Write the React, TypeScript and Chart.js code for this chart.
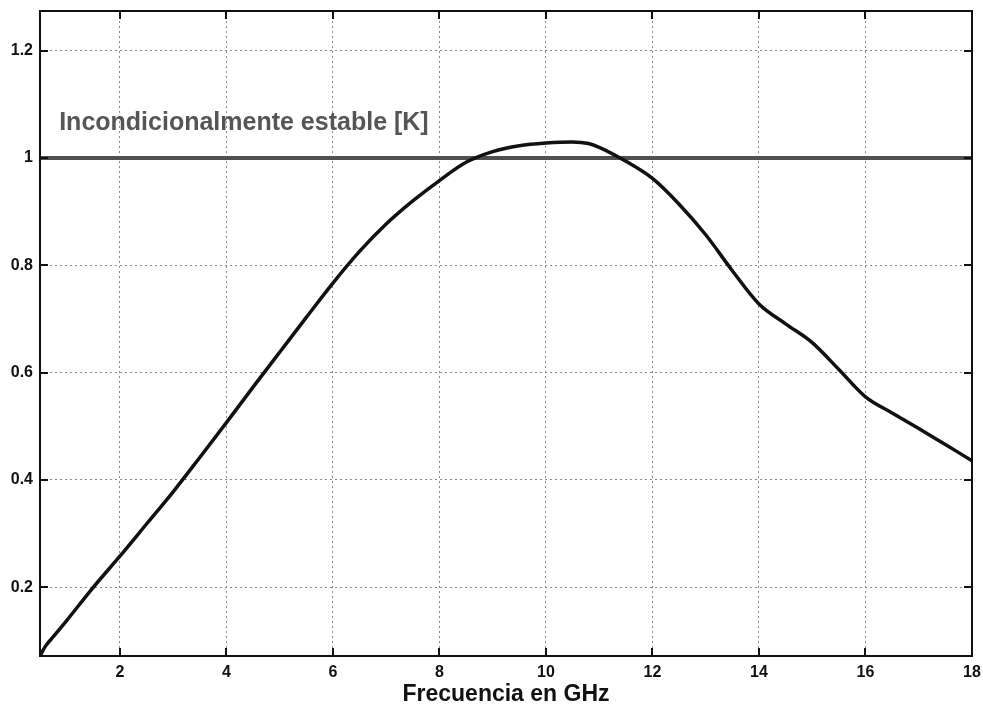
import { useEffect, useRef } from "react";
import { Chart, registerables } from "chart.js";

Chart.register(...registerables);

// Stability factor K versus frequency
const frequencyGHz = [
  0.5, 0.6, 0.75, 1.0, 1.5, 2.0, 2.5, 3.0, 3.5, 4.0, 4.5, 5.0, 5.5, 6.0, 6.5, 7.0, 7.5, 8.0,
  8.5, 9.0, 9.5, 10.0, 10.5, 10.8, 11.0, 11.5, 12.0, 12.5, 13.0, 13.5, 14.0, 14.5, 15.0, 15.5,
  16.0, 16.5, 17.0, 17.5, 18.0,
];
const stabilityK = [
  0.072, 0.09, 0.108, 0.138, 0.2, 0.258, 0.318, 0.378, 0.442, 0.507, 0.573, 0.638, 0.703, 0.767,
  0.826, 0.877, 0.92, 0.958, 0.992, 1.012, 1.023, 1.028, 1.03, 1.027, 1.02, 0.994, 0.962, 0.914,
  0.857, 0.79, 0.728, 0.691, 0.656, 0.606, 0.555, 0.525, 0.496, 0.466, 0.436,
];

// Unconditional stability threshold
const thresholdK = 1;
const thresholdLabel = "Incondicionalmente estable [K]";
const thresholdLabelAt = { x: 0.86, y: 1.052 };

const xTickValues = [2, 4, 6, 8, 10, 12, 14, 16, 18];
const yTickValues = [0.2, 0.4, 0.6, 0.8, 1, 1.2];
const xRange = { min: 0.5, max: 18 };
const yRange = { min: 0.072, max: 1.274 };
const xAxisTitle = "Frecuencia en GHz";

const FONT = "'Liberation Sans', Arial, Helvetica, sans-serif";

// Box frame, inward tick marks on all four sides, and the threshold caption
const framePlugin = {
  id: "frame",
  afterDraw(chart: any) {
    const { ctx, chartArea: a, scales } = chart;
    const xs = scales.x;
    const ys = scales.y;
    const tick = 8;
    ctx.save();
    ctx.strokeStyle = "#111";
    ctx.lineWidth = 2;
    ctx.strokeRect(a.left, a.top, a.right - a.left, a.bottom - a.top);
    ctx.beginPath();
    for (const v of xTickValues) {
      const px = Math.round(xs.getPixelForValue(v));
      ctx.moveTo(px, a.bottom);
      ctx.lineTo(px, a.bottom - tick);
      ctx.moveTo(px, a.top);
      ctx.lineTo(px, a.top + tick);
    }
    for (const v of yTickValues) {
      const py = Math.round(ys.getPixelForValue(v));
      ctx.moveTo(a.left, py);
      ctx.lineTo(a.left + tick, py);
      ctx.moveTo(a.right, py);
      ctx.lineTo(a.right - tick, py);
    }
    ctx.stroke();

    ctx.fillStyle = "#555";
    ctx.font = `bold 25px ${FONT}`;
    ctx.textAlign = "left";
    ctx.textBaseline = "alphabetic";
    ctx.fillText(
      thresholdLabel,
      xs.getPixelForValue(thresholdLabelAt.x),
      ys.getPixelForValue(thresholdLabelAt.y)
    );
    ctx.restore();
  },
};

const whiteBackground = {
  id: "whiteBackground",
  beforeDraw(chart: any) {
    const { ctx, width, height } = chart;
    ctx.save();
    ctx.fillStyle = "#fff";
    ctx.fillRect(0, 0, width, height);
    ctx.restore();
  },
};

export default function App() {
  const canvasRef = useRef<HTMLCanvasElement | null>(null);

  useEffect(() => {
    const canvas = canvasRef.current;
    if (!canvas) return;
    const curve = frequencyGHz.map((f, i) => ({ x: f, y: stabilityK[i] }));
    const threshold = [
      { x: xRange.min, y: thresholdK },
      { x: xRange.max, y: thresholdK },
    ];

    const chart = new Chart(canvas, {
      type: "line",
      data: {
        datasets: [
          {
            label: "K",
            data: curve,
            borderColor: "#111",
            borderWidth: 3.5,
            pointRadius: 0,
            cubicInterpolationMode: "monotone",
            fill: false,
            order: 0,
          },
          {
            label: "K = 1",
            data: threshold,
            borderColor: "#505050",
            borderWidth: 4,
            pointRadius: 0,
            fill: false,
            order: 1,
          },
        ],
      },
      options: {
        animation: false,
        responsive: false,
        maintainAspectRatio: false,
        layout: { padding: { top: 11, right: 11, left: 0, bottom: 0 } },
        plugins: {
          legend: { display: false },
          tooltip: { enabled: false },
        },
        scales: {
          x: {
            type: "linear",
            min: xRange.min,
            max: xRange.max,
            afterBuildTicks: (s: any) => {
              s.ticks = xTickValues.map((v) => ({ value: v }));
            },
            afterFit: (s: any) => {
              s.height = 51;
              s.paddingLeft = 0;
              s.paddingRight = 0;
            },
            ticks: {
              color: "#111",
              font: { family: FONT, size: 16, weight: "bold" },
              padding: 7,
              maxRotation: 0,
              callback: (v: any) => String(v),
            },
            grid: {
              color: "#8a8a8a",
              lineWidth: 1,
              drawTicks: false,
            },
            border: { display: false, dash: [2, 3] },
            title: {
              display: true,
              text: xAxisTitle,
              color: "#111",
              font: { family: FONT, size: 23, weight: "bold", lineHeight: 1.1 },
              padding: { top: 0, bottom: 0 },
            },
          },
          y: {
            type: "linear",
            min: yRange.min,
            max: yRange.max,
            afterBuildTicks: (s: any) => {
              s.ticks = yTickValues.map((v) => ({ value: v }));
            },
            afterFit: (s: any) => {
              s.width = 40;
              s.paddingTop = 0;
              s.paddingBottom = 0;
            },
            ticks: {
              color: "#111",
              font: { family: FONT, size: 16, weight: "bold" },
              padding: 7,
              callback: (v: any) => String(v),
            },
            grid: {
              color: "#8a8a8a",
              lineWidth: 1,
              drawTicks: false,
            },
            border: { display: false, dash: [2, 3] },
          },
        },
      },
      plugins: [whiteBackground, framePlugin],
    } as any);

    return () => chart.destroy();
  }, []);

  return (
    <div style={{ position: "fixed", left: 0, top: 0, width: 983, height: 707, background: "#fff" }}>
      <canvas ref={canvasRef} width={983} height={707} style={{ display: "block", width: 983, height: 707 }} />
    </div>
  );
}
